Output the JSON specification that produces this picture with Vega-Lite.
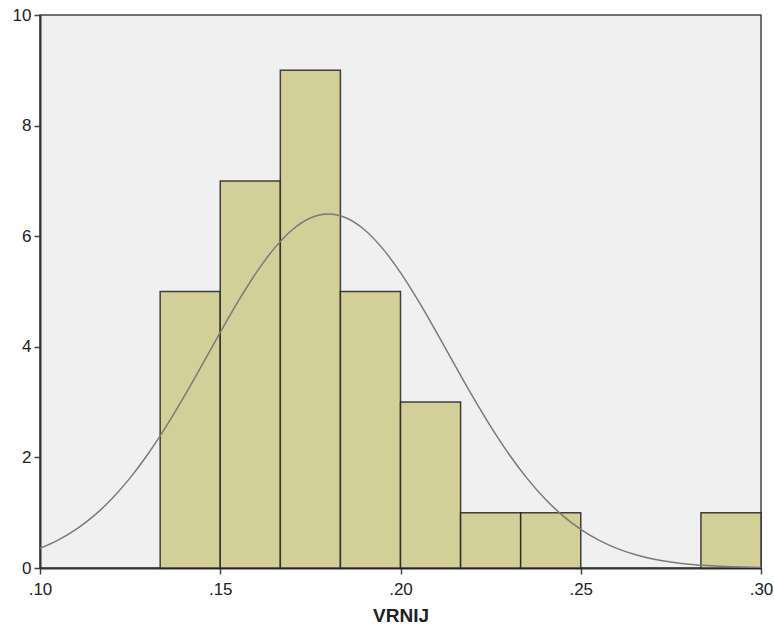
{
  "$schema": "https://vega.github.io/schema/vega-lite/v6.json",
  "width": 721,
  "height": 553,
  "autosize": {"type": "none"},
  "padding": {"left": 40, "top": 15, "right": 13, "bottom": 65},
  "background": "white",
  "config": {
    "view": {"fill": "#F0F0F0", "stroke": "#444444", "strokeWidth": 1.5},
    "axis": {"grid": false, "labelFont": "Liberation Sans", "labelFontSize": 17, "labelColor": "#222222", "tickColor": "#444444", "domainColor": "#333333", "domainWidth": 2, "tickSize": 6, "tickWidth": 1.5, "labelFlush": false, "labelOverlap": false}
  },
  "datasets": {
    "bins": [
      {"start": 0.133333, "end": 0.15, "count": 5},
      {"start": 0.15, "end": 0.166667, "count": 7},
      {"start": 0.166667, "end": 0.183333, "count": 9},
      {"start": 0.183333, "end": 0.2, "count": 5},
      {"start": 0.2, "end": 0.216667, "count": 3},
      {"start": 0.216667, "end": 0.233333, "count": 1},
      {"start": 0.233333, "end": 0.25, "count": 1},
      {"start": 0.283333, "end": 0.3, "count": 1}
    ],
    "curve": [
      {"x": 0.100, "y": 0.354}, {"x": 0.105, "y": 0.503}, {"x": 0.110, "y": 0.698}, {"x": 0.115, "y": 0.947},
      {"x": 0.120, "y": 1.256}, {"x": 0.125, "y": 1.630}, {"x": 0.130, "y": 2.066}, {"x": 0.135, "y": 2.561},
      {"x": 0.140, "y": 3.104}, {"x": 0.145, "y": 3.678}, {"x": 0.150, "y": 4.260}, {"x": 0.155, "y": 4.824},
      {"x": 0.160, "y": 5.341}, {"x": 0.165, "y": 5.780}, {"x": 0.170, "y": 6.117}, {"x": 0.175, "y": 6.328},
      {"x": 0.180, "y": 6.400}, {"x": 0.185, "y": 6.328}, {"x": 0.190, "y": 6.117}, {"x": 0.195, "y": 5.780},
      {"x": 0.200, "y": 5.341}, {"x": 0.205, "y": 4.824}, {"x": 0.210, "y": 4.260}, {"x": 0.215, "y": 3.678},
      {"x": 0.220, "y": 3.104}, {"x": 0.225, "y": 2.561}, {"x": 0.230, "y": 2.066}, {"x": 0.235, "y": 1.630},
      {"x": 0.240, "y": 1.256}, {"x": 0.245, "y": 0.947}, {"x": 0.250, "y": 0.698}, {"x": 0.255, "y": 0.503},
      {"x": 0.260, "y": 0.354}, {"x": 0.265, "y": 0.244}, {"x": 0.270, "y": 0.164}, {"x": 0.275, "y": 0.108},
      {"x": 0.280, "y": 0.069}, {"x": 0.285, "y": 0.044}, {"x": 0.290, "y": 0.027}, {"x": 0.295, "y": 0.016},
      {"x": 0.300, "y": 0.010}
    ]
  },
  "layer": [
    {
      "data": {"name": "bins"},
      "mark": {"type": "rect", "fill": "#D3CF98", "stroke": "#222222", "strokeWidth": 1.5, "strokeOpacity": 0.85},
      "encoding": {
        "x": {"field": "start", "type": "quantitative", "scale": {"domain": [0.1, 0.3], "nice": false, "zero": false},
          "axis": {"values": [0.1, 0.15, 0.2, 0.25, 0.3], "labelExpr": "replace(format(datum.value, '.2f'), '0.', '.')", "title": "VRNIJ", "titleFont": "Liberation Sans", "titleFontSize": 19, "titleFontWeight": "bold", "titleColor": "#222222", "titlePadding": 9, "labelPadding": 7}},
        "x2": {"field": "end"},
        "y": {"field": "count", "type": "quantitative", "scale": {"domain": [0, 10], "nice": false},
          "axis": {"values": [0, 2, 4, 6, 8, 10], "title": null, "labelPadding": 3}},
        "y2": {"datum": 0}
      }
    },
    {
      "data": {"name": "curve"},
      "mark": {"type": "line", "color": "#7A7A7A", "strokeWidth": 1.5, "interpolate": "monotone", "clip": true},
      "encoding": {
        "x": {"field": "x", "type": "quantitative"},
        "y": {"field": "y", "type": "quantitative"}
      }
    }
  ]
}
